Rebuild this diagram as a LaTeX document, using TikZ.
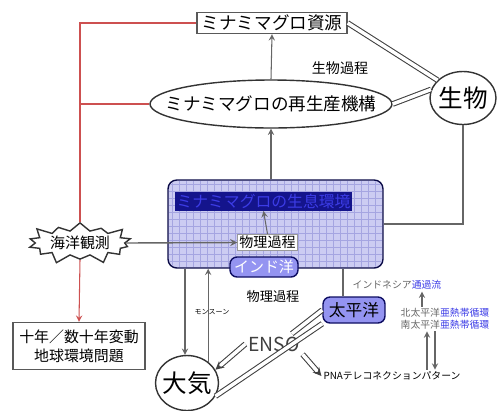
\documentclass[tikz,border=0pt]{standalone}
\usepackage{xcolor}
\usepackage{fontspec}
\setmainfont{Noto Sans CJK JP}
\usepackage{tikz}
\usetikzlibrary{positioning,arrows,shapes}

\definecolor{usuao}{RGB}{204,204,242}
\definecolor{koshi}{RGB}{165,165,225}
\definecolor{kon}{RGB}{20,20,140}
\definecolor{aomoji}{RGB}{60,60,230}
\definecolor{akai}{RGB}{205,80,80}

\begin{document}
\begin{tikzpicture}[x=0.02cm,y=-0.02cm,>=stealth,
  every node/.style={inner sep=1pt},
  waku/.style={rectangle,draw=black!65,thick,fill=white},
  maru/.style={ellipse,draw=black!80,thick,fill=white,inner sep=0pt},
  umi/.style={rectangle,rounded corners=4pt,draw=kon!70!black,thick,fill=aomoji!55},
  nijuu/.style={draw=black!75,double=white,double distance=2pt,semithick},
  akasen/.style={draw=akai,semithick},
  haisen/.style={draw=black!60,semithick},
  chu/.style={font=\fontsize{8}{9}\selectfont},
  sho/.style={font=\fontsize{5.6}{6.6}\selectfont}]
  \useasboundingbox (0,0) rectangle (497,410);

  % biology side
  \node[waku,minimum width=3cm,minimum height=0.42cm,font=\fontsize{10}{12}\selectfont] (shigen) at (272,23) {ミナミマグロ資源};
  \node[maru,inner xsep=-0.42cm,inner ysep=0.12cm,minimum width=4.84cm,minimum height=0.96cm,
    font=\fontsize{10}{12}\selectfont] (saisei) at (271,104) {ミナミマグロの再生産機構};
  \node[maru,inner xsep=-0.1cm,minimum width=1.32cm,minimum height=1.06cm,font=\fontsize{14}{16}\selectfont] (seibutsu) at (463,98) {生物};
  \node[chu] (seibutsukatei) at (340,68) {生物過程};

  % ocean box with grid
  \node[rectangle,rounded corners=5pt,draw=kon!50!black,thick,fill=usuao,
    minimum width=4.3cm,minimum height=1.76cm] (kankyo) at (275.5,224) {};
  \begin{scope}
    \clip[rounded corners=5pt] (169,181) rectangle (382,267);
    \foreach \x in {172,179,...,382} \draw[koshi,thin] (\x,181) -- (\x,267);
    \foreach \y in {184,191,...,267} \draw[koshi,thin] (169,\y) -- (382,\y);
  \end{scope}
  \node[rectangle,fill=kon,minimum width=3.26cm,minimum height=0.36cm,text=aomoji,
    font=\fontsize{9}{10}\selectfont] (seisoku) at (263.5,201.5) {ミナミマグロの生息環境};
  \node[rectangle,draw=black!40,fill=white,minimum width=1.18cm,minimum height=0.3cm,chu] (butsuri) at (267.5,242.5) {物理過程};
  \node[umi,minimum width=1.36cm,minimum height=0.4cm,text=white,font=\fontsize{8.5}{10}\selectfont] (indo) at (264,267) {インド洋};

  % observation and climate
  \node[starburst,draw=black!80,thick,fill=white,starburst points=14,starburst point height=0.22cm,
    inner sep=1pt,font=\fontsize{8.5}{10}\selectfont] (kansoku) at (80,243) {海洋観測};
  \node[waku,minimum width=2.64cm,minimum height=0.94cm,align=center,
    font=\fontsize{8.5}{11}\selectfont] (jyunen) at (79,346) {十年／数十年変動\\地球環境問題};

  \node[maru,inner xsep=-0.1cm,minimum width=1.26cm,minimum height=1.1cm,font=\fontsize{14}{16}\selectfont] (taiki) at (187,383) {大気};
  \node[umi,minimum width=1.24cm,minimum height=0.52cm,font=\fontsize{9.5}{11}\selectfont] (taiheiyo) at (354,310) {太平洋};
  \node[font=\fontsize{11}{12}\selectfont,text=black!75,inner sep=1.5pt] (enso) at (274,344) {ENSO};
  \node[font=\fontsize{4}{5}\selectfont] (monsoon) at (212,312) {モンスーン};
  \node[font=\fontsize{7.5}{9}\selectfont] (butsuri2) at (273,296) {物理過程};
  \node[sho] (indonesia) at (397,285) {\textcolor{black!60}{インドネシア}\textcolor{aomoji}{通過流}};
  \node[sho,align=left] (kita) at (445,319) {\textcolor{black!60}{北太平洋}\textcolor{aomoji}{亜熱帯循環}\\\textcolor{black!60}{南太平洋}\textcolor{aomoji}{亜熱帯循環}};
  \node[sho] (pna) at (392,376) {PNAテレコネクションパターン};

  % connectors
  \draw[haisen,->] (saisei.south |- kankyo.north) -- (saisei.south);
  \draw[haisen,->] (saisei.north) -- (shigen.south);
  \draw[nijuu] (shigen.east) -- (seibutsu.145);
  \draw[nijuu] (saisei.east) -- (seibutsu.165);
  \draw[haisen] (seibutsu.south) |- (kankyo.east);
  \draw[haisen,->] (butsuri.north) -- (seisoku.south);

  \draw[akasen] (shigen.west) -| (kansoku.north);
  \draw[akasen] (saisei.west) -- (saisei.west -| kansoku.north);
  \draw[akasen,->] (kansoku.south) -- (jyunen.north);
  \draw[haisen,thick,->] (kansoku.east) -- (butsuri.west);

  \draw[haisen,->] (kankyo.south -| 185,0) -- (taiki.north -| 185,0);
  \draw[haisen,->] (taiki.45) -- (taiki.45 |- kankyo.south);
  \draw[haisen] (kankyo.south -| 343,0) -- (taiheiyo.north -| 343,0);
  \draw[haisen,->] (kita.north -| 422,0) -- (indonesia.south -| 422,0);
  \draw[haisen,->] (pna.north -| 427,0) -- (kita.south -| 427,0);
  \draw[haisen,->] (kita.south -| 435,0) -- (pna.north -| 435,0);

  \draw[nijuu,->] (enso.west) -- (taiki.25);
  \draw[nijuu] (enso.30) -- (taiheiyo.west);
  \draw[nijuu] (taiki.-25) -- (taiheiyo.south west);
  \draw[nijuu,->] (enso.south east) -- (pna.west);
\end{tikzpicture}
\end{document}
